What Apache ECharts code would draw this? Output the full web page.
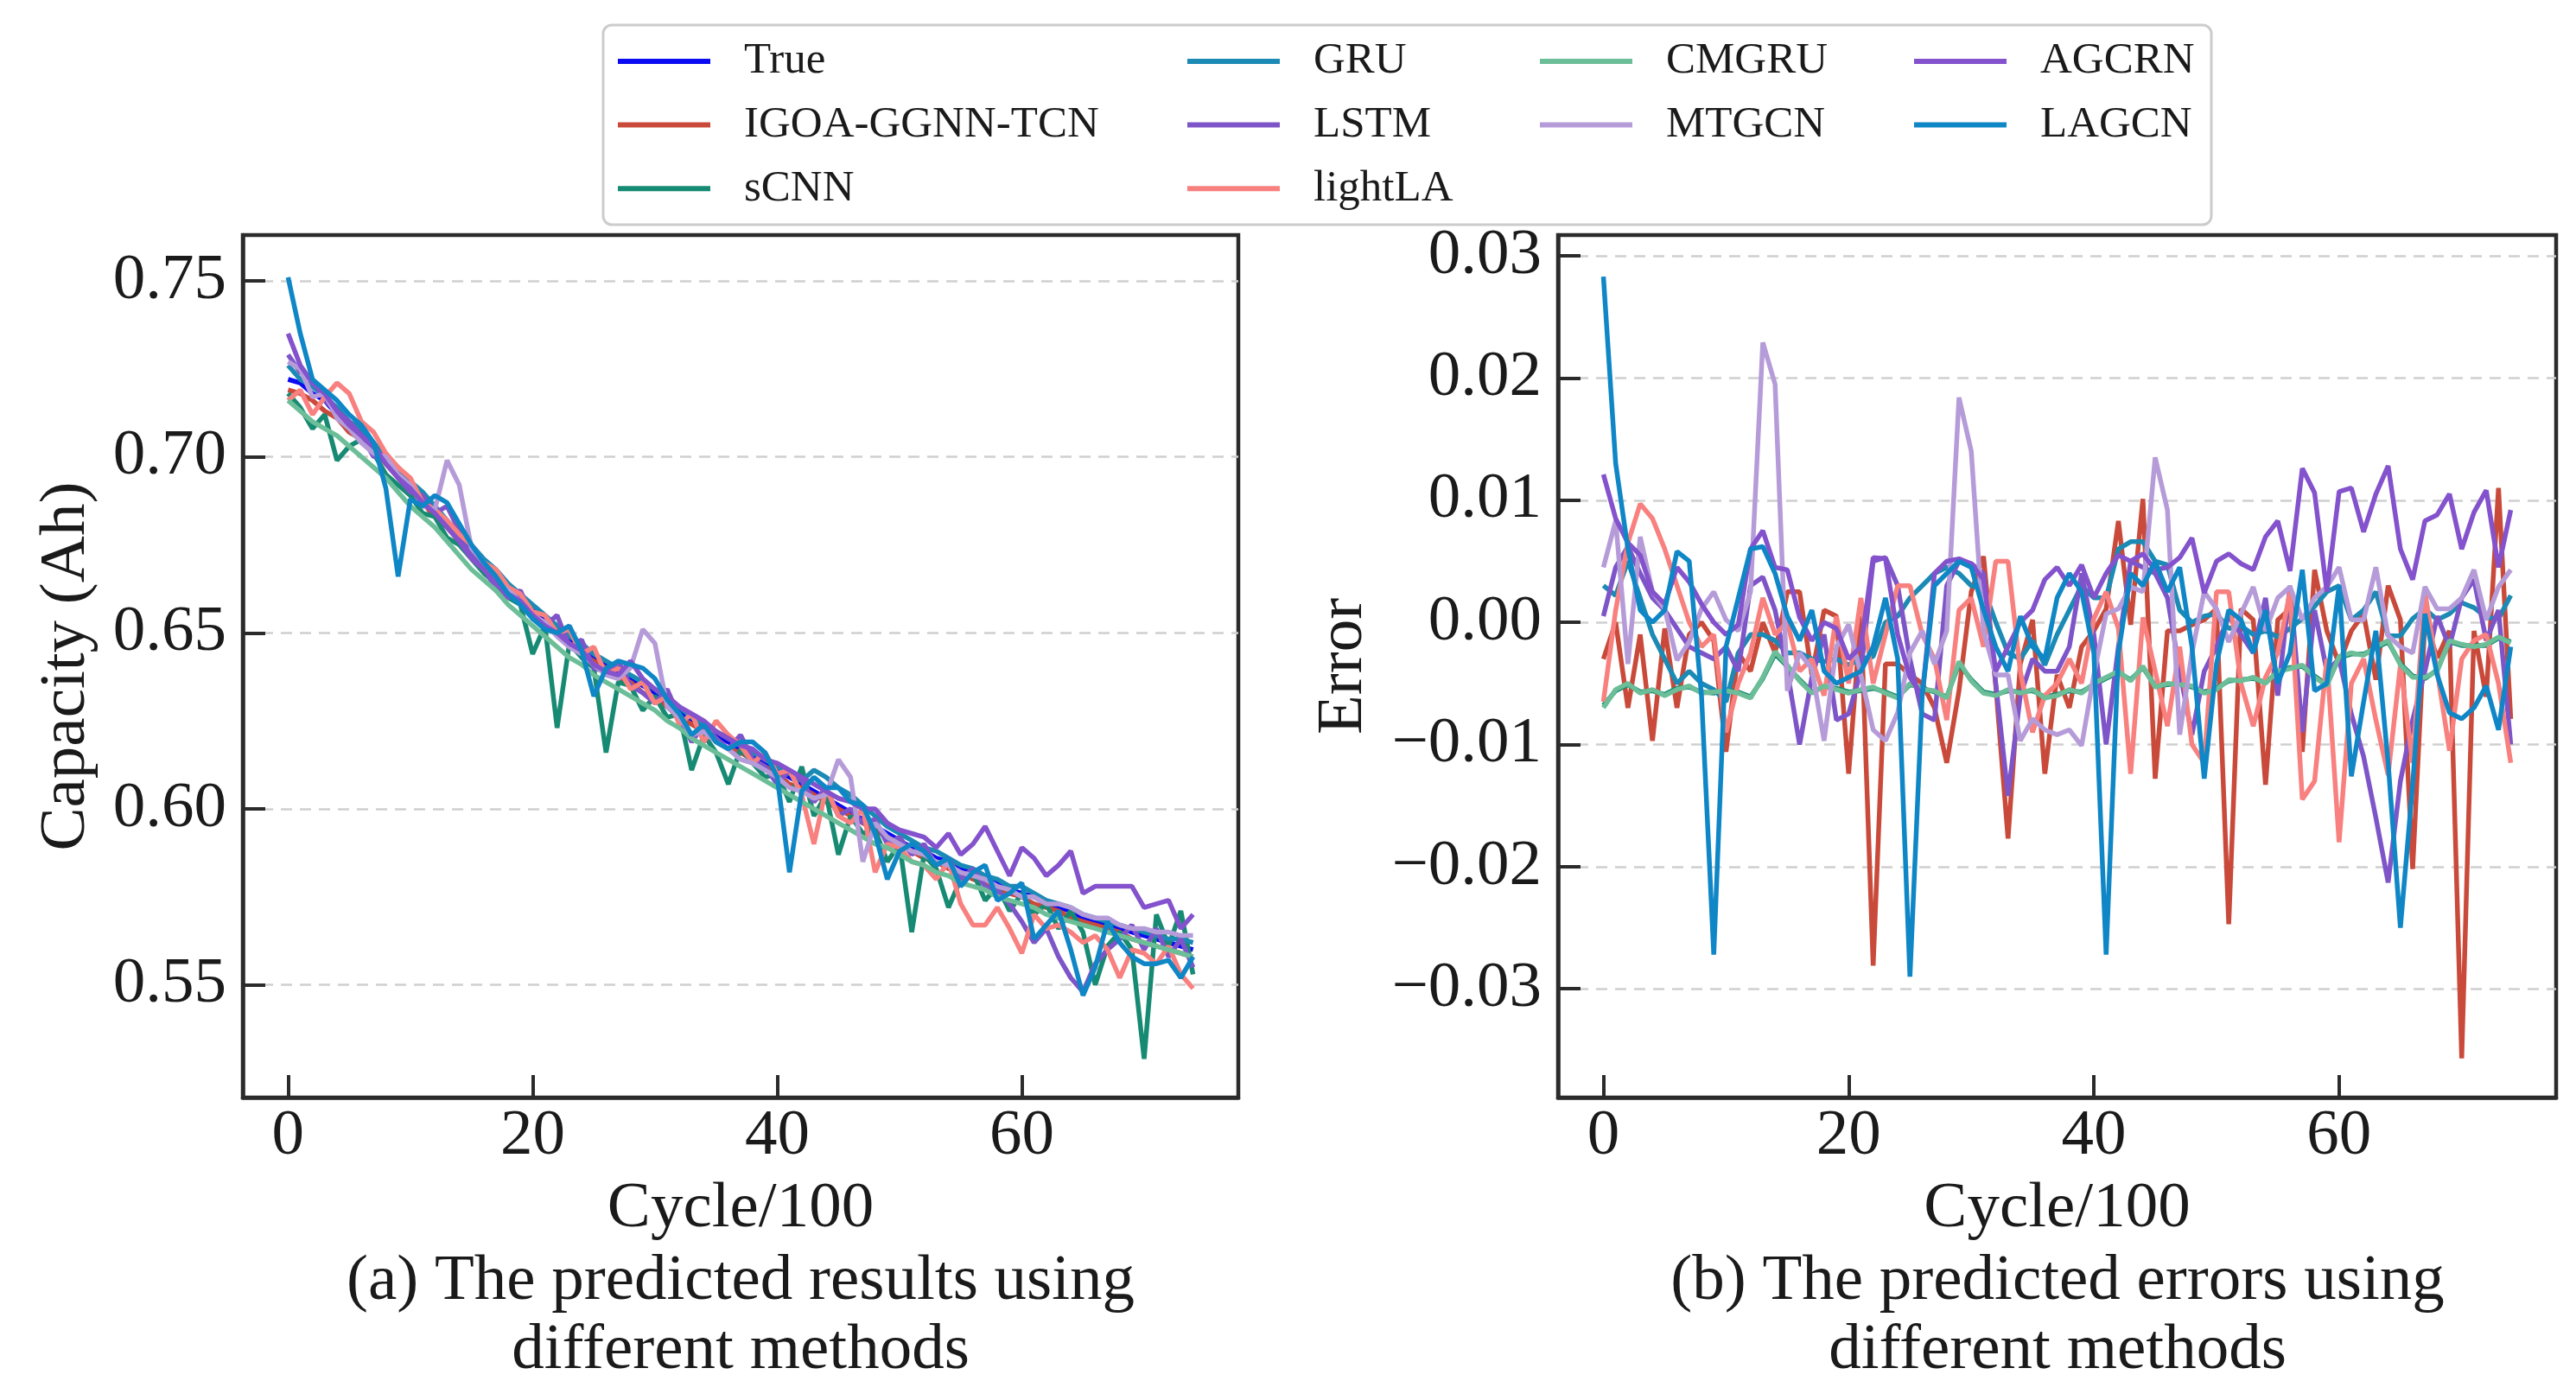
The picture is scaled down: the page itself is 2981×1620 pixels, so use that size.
<!DOCTYPE html>
<html>
<head>
<meta charset="utf-8">
<title>Predicted results and errors</title>
<script src="https://cdn.jsdelivr.net/npm/echarts@6/dist/echarts.min.js"></script>
<style>
  html, body { margin: 0; padding: 0; background: #fff; }
  #chart { width: 2981px; height: 1620px; }
</style>
</head>
<body>
<div id="chart"></div>
<script>
const FONT = "'Liberation Serif', 'DejaVu Serif', serif";

const CYCLES = [
  0, 1, 2, 3, 4, 5, 6, 7, 8, 9, 10, 11, 12, 13, 14, 15, 16, 17, 18, 19,
  20, 21, 22, 23, 24, 25, 26, 27, 28, 29, 30, 31, 32, 33, 34, 35, 36, 37, 38, 39,
  40, 41, 42, 43, 44, 45, 46, 47, 48, 49, 50, 51, 52, 53, 54, 55, 56, 57, 58, 59,
  60, 61, 62, 63, 64, 65, 66, 67, 68, 69, 70, 71, 72, 73, 74
];

// (a) capacity (Ah)
const trueCap = [
  0.722,0.721,0.718,0.716,0.712,0.709,0.707,0.703,0.699,0.696,
  0.692,0.688,0.685,0.681,0.677,0.673,0.670,0.667,0.663,0.660,
  0.657,0.654,0.651,0.648,0.646,0.643,0.641,0.639,0.637,0.635,
  0.633,0.630,0.628,0.625,0.623,0.621,0.619,0.617,0.615,0.613,
  0.611,0.609,0.607,0.605,0.603,0.601,0.599,0.597,0.595,0.593,
  0.591,0.589,0.588,0.586,0.585,0.583,0.582,0.580,0.579,0.577,
  0.576,0.575,0.573,0.572,0.571,0.569,0.568,0.567,0.566,0.565,
  0.564,0.563,0.562,0.561,0.560
];
const igoaCap = [
  0.719,0.718,0.716,0.713,0.711,0.707,0.705,0.702,0.698,0.694,
  0.690,0.687,0.683,0.680,0.676,0.672,0.668,0.665,0.662,0.658,
  0.655,0.653,0.650,0.647,0.644,0.642,0.640,0.637,0.636,0.633,
  0.631,0.629,0.626,0.624,0.622,0.620,0.617,0.616,0.614,0.612,
  0.610,0.607,0.606,0.604,0.602,0.600,0.598,0.596,0.594,0.592,
  0.590,0.588,0.586,0.585,0.583,0.582,0.580,0.579,0.577,0.576,
  0.575,0.573,0.572,0.571,0.569,0.568,0.567,0.566,0.565,0.563,
  0.562,0.561,0.560,0.559,0.558
];
const scnnCap = [
  0.718,0.714,0.708,0.712,0.699,0.703,0.705,0.701,0.695,0.692,
  0.689,0.684,0.683,0.677,0.675,0.671,0.667,0.664,0.660,0.658,
  0.644,0.652,0.623,0.647,0.643,0.640,0.616,0.636,0.635,0.628,
  0.632,0.626,0.627,0.611,0.621,0.616,0.607,0.617,0.613,0.609,
  0.610,0.602,0.612,0.598,0.604,0.587,0.598,0.593,0.594,0.585,
  0.590,0.565,0.587,0.583,0.572,0.580,0.582,0.574,0.578,0.571,
  0.576,0.570,0.573,0.566,0.571,0.565,0.550,0.561,0.565,0.560,
  0.529,0.570,0.561,0.571,0.553
];
const gruCap = [
  0.726,0.722,0.720,0.717,0.714,0.710,0.708,0.704,0.700,0.697,
  0.693,0.690,0.686,0.682,0.678,0.675,0.671,0.668,0.664,0.661,
  0.658,0.655,0.652,0.649,0.647,0.644,0.642,0.640,0.638,0.636,
  0.634,0.631,0.629,0.626,0.624,0.622,0.620,0.618,0.616,0.614,
  0.612,0.610,0.608,0.611,0.609,0.606,0.604,0.601,0.598,0.595,
  0.593,0.591,0.589,0.588,0.586,0.584,0.583,0.581,0.580,0.578,
  0.578,0.576,0.574,0.573,0.572,0.570,0.569,0.568,0.567,0.566,
  0.565,0.564,0.563,0.563,0.562
];
const lstmCap = [
  0.729,0.724,0.722,0.716,0.713,0.710,0.706,0.700,0.701,0.694,
  0.690,0.689,0.684,0.686,0.679,0.672,0.669,0.662,0.660,0.662,
  0.654,0.652,0.655,0.646,0.648,0.640,0.639,0.642,0.635,0.633,
  0.630,0.634,0.626,0.619,0.624,0.620,0.617,0.621,0.614,0.612,
  0.607,0.611,0.608,0.602,0.606,0.598,0.600,0.596,0.597,0.590,
  0.592,0.587,0.590,0.584,0.586,0.580,0.583,0.578,0.577,0.573,
  0.568,0.562,0.566,0.558,0.552,0.548,0.556,0.560,0.563,0.567,
  0.560,0.566,0.558,0.563,0.555
];
const lightlaCap = [
  0.716,0.719,0.712,0.717,0.721,0.718,0.710,0.707,0.701,0.697,
  0.694,0.687,0.685,0.682,0.678,0.675,0.670,0.668,0.663,0.661,
  0.656,0.655,0.650,0.651,0.644,0.646,0.638,0.640,0.634,0.636,
  0.630,0.632,0.624,0.627,0.619,0.625,0.621,0.618,0.613,0.616,
  0.610,0.611,0.604,0.590,0.606,0.598,0.596,0.600,0.582,0.590,
  0.589,0.585,0.584,0.580,0.585,0.573,0.567,0.567,0.572,0.566,
  0.559,0.570,0.566,0.567,0.565,0.562,0.564,0.560,0.552,0.560,
  0.559,0.556,0.561,0.553,0.549
];
const cmgruCap = [
  0.716,0.713,0.710,0.708,0.706,0.703,0.700,0.697,0.694,0.690,
  0.686,0.683,0.680,0.676,0.672,0.668,0.665,0.662,0.658,0.655,
  0.652,0.649,0.646,0.643,0.641,0.638,0.636,0.634,0.632,0.630,
  0.628,0.625,0.623,0.620,0.618,0.616,0.614,0.612,0.610,0.608,
  0.606,0.604,0.602,0.600,0.598,0.596,0.594,0.592,0.590,0.589,
  0.587,0.585,0.584,0.582,0.581,0.579,0.578,0.577,0.575,0.574,
  0.573,0.572,0.570,0.569,0.568,0.567,0.566,0.565,0.564,0.563,
  0.562,0.561,0.560,0.559,0.558
];
const mtgcnCap = [
  0.727,0.725,0.717,0.718,0.711,0.708,0.704,0.701,0.700,0.695,
  0.692,0.686,0.685,0.699,0.692,0.674,0.670,0.665,0.662,0.659,
  0.655,0.653,0.649,0.646,0.644,0.641,0.638,0.637,0.640,0.651,
  0.647,0.629,0.626,0.621,0.622,0.619,0.617,0.614,0.613,0.611,
  0.609,0.606,0.605,0.603,0.604,0.614,0.609,0.585,0.596,0.592,
  0.590,0.588,0.587,0.585,0.584,0.582,0.581,0.580,0.578,0.577,
  0.575,0.575,0.573,0.573,0.572,0.570,0.569,0.569,0.567,0.566,
  0.566,0.565,0.565,0.564,0.564
];
const agcrnCap = [
  0.735,0.726,0.721,0.718,0.713,0.709,0.706,0.703,0.698,0.694,
  0.691,0.687,0.684,0.680,0.676,0.671,0.668,0.664,0.661,0.659,
  0.655,0.652,0.650,0.647,0.645,0.641,0.639,0.638,0.642,0.637,
  0.634,0.632,0.629,0.627,0.625,0.622,0.620,0.618,0.617,0.614,
  0.613,0.611,0.609,0.607,0.605,0.603,0.602,0.600,0.600,0.596,
  0.594,0.593,0.592,0.589,0.593,0.587,0.590,0.595,0.588,0.581,
  0.589,0.586,0.581,0.584,0.588,0.576,0.578,0.578,0.578,0.578,
  0.572,0.573,0.574,0.566,0.570
];
const lagcnCap = [
  0.751,0.735,0.722,0.719,0.716,0.712,0.709,0.704,0.691,0.666,
  0.688,0.686,0.689,0.687,0.681,0.675,0.670,0.666,0.661,0.658,
  0.654,0.651,0.650,0.652,0.645,0.632,0.640,0.642,0.641,0.640,
  0.637,0.631,0.627,0.621,0.624,0.619,0.617,0.619,0.619,0.616,
  0.609,0.582,0.605,0.609,0.606,0.606,0.602,0.601,0.593,0.580,
  0.588,0.590,0.588,0.584,0.586,0.578,0.582,0.584,0.574,0.576,
  0.579,0.563,0.567,0.571,0.560,0.547,0.555,0.568,0.562,0.558,
  0.556,0.556,0.557,0.552,0.558
];

// (b) prediction errors
const igoaErr = [
  -0.0030,0.0000,-0.0070,-0.0010,-0.0097,-0.0005,-0.0070,-0.0010,0.0000,-0.0015,
  -0.0106,-0.0025,-0.0040,0.0000,-0.0025,0.0025,0.0025,-0.0043,0.0010,0.0005,
  -0.0124,0.0005,-0.0281,-0.0034,-0.0034,-0.0043,-0.0050,-0.0070,-0.0115,-0.0056,
  0.0025,0.0054,-0.0052,-0.0177,-0.0034,0.0002,-0.0124,-0.0043,-0.0070,-0.0020,
  -0.0007,0.0011,0.0083,-0.0002,0.0101,-0.0128,-0.0007,-0.0007,-0.0002,0.0002,
  0.0011,-0.0247,0.0011,0.0002,-0.0133,0.0002,0.0011,-0.0106,0.0043,-0.0007,
  -0.0034,-0.0007,0.0007,-0.0047,0.0030,0.0002,-0.0202,0.0002,-0.0029,-0.0007,
  -0.0357,-0.0007,-0.0061,0.0110,-0.0079
];
const scnnErr = [
  -0.0068,-0.0056,-0.0051,-0.0057,-0.0056,-0.0059,-0.0054,-0.0053,-0.0057,-0.0058,
  -0.0055,-0.0057,-0.0061,-0.0046,-0.0026,-0.0036,-0.0047,-0.0057,-0.0053,-0.0054,
  -0.0057,-0.0056,-0.0054,-0.0057,-0.0061,-0.0051,-0.0054,-0.0057,-0.0061,-0.0034,
  -0.0047,-0.0057,-0.0059,-0.0056,-0.0057,-0.0056,-0.0061,-0.0059,-0.0056,-0.0057,
  -0.0051,-0.0046,-0.0041,-0.0047,-0.0037,-0.0052,-0.0051,-0.0050,-0.0053,-0.0057,
  -0.0054,-0.0048,-0.0047,-0.0046,-0.0049,-0.0041,-0.0037,-0.0036,-0.0044,-0.0051,
  -0.0029,-0.0026,-0.0026,-0.0021,-0.0016,-0.0034,-0.0044,-0.0046,-0.0039,-0.0016,
  -0.0019,-0.0019,-0.0019,-0.0013,-0.0016
];
const gruErr = [
  0.0030,0.0022,0.0050,0.0020,-0.0010,-0.0030,-0.0050,-0.0040,-0.0050,-0.0055,
  -0.0065,-0.0025,-0.0010,-0.0010,-0.0015,-0.0025,-0.0025,-0.0030,-0.0032,-0.0030,
  -0.0035,-0.0030,-0.0028,0.0000,0.0005,0.0020,0.0030,0.0040,0.0045,0.0040,
  0.0030,0.0028,0.0000,-0.0025,-0.0030,-0.0015,-0.0035,-0.0010,0.0010,0.0030,
  0.0020,0.0020,0.0060,0.0066,0.0066,0.0050,0.0047,0.0010,0.0000,0.0005,
  0.0007,-0.0005,-0.0003,-0.0010,-0.0007,-0.0012,-0.0005,0.0003,0.0013,0.0025,
  0.0030,0.0002,0.0010,0.0025,-0.0011,-0.0011,0.0003,0.0011,0.0002,0.0007,
  0.0016,0.0012,0.0004,0.0003,0.0022
];
const lstmErr = [
  0.0005,0.0045,0.0062,0.0040,0.0020,0.0010,-0.0005,-0.0020,-0.0025,-0.0030,
  -0.0020,-0.0040,0.0030,0.0037,0.0010,-0.0040,-0.0100,-0.0045,-0.0010,-0.0080,
  -0.0075,-0.0040,0.0050,0.0053,0.0030,-0.0030,-0.0075,-0.0080,0.0030,0.0050,
  0.0048,0.0040,-0.0050,-0.0142,-0.0060,-0.0030,-0.0040,-0.0040,-0.0020,0.0040,
  -0.0010,-0.0100,-0.0020,0.0050,0.0045,0.0040,0.0020,-0.0040,-0.0092,-0.0040,
  -0.0020,0.0005,-0.0010,-0.0025,0.0020,-0.0060,0.0030,-0.0090,0.0010,-0.0040,
  -0.0030,-0.0075,-0.0110,-0.0160,-0.0213,-0.0130,-0.0080,-0.0040,0.0005,-0.0020,
  0.0020,0.0035,-0.0015,0.0010,-0.0100
];
const lightlaErr = [
  -0.0065,0.0010,0.0065,0.0097,0.0085,0.0060,0.0030,0.0000,-0.0020,-0.0010,
  -0.0090,-0.0050,-0.0025,0.0020,-0.0010,0.0000,-0.0040,-0.0030,-0.0060,0.0005,
  -0.0050,0.0020,-0.0050,-0.0010,0.0030,0.0030,-0.0010,-0.0030,-0.0080,0.0010,
  0.0020,-0.0020,0.0050,0.0050,-0.0040,-0.0090,-0.0060,-0.0050,-0.0030,-0.0050,
  0.0003,0.0025,-0.0005,-0.0124,0.0004,-0.0040,-0.0085,-0.0020,-0.0100,-0.0115,
  0.0025,0.0025,-0.0050,-0.0085,-0.0045,-0.0025,0.0025,-0.0145,-0.0130,-0.0030,
  -0.0180,-0.0050,-0.0030,-0.0080,-0.0125,-0.0035,-0.0115,0.0025,-0.0040,-0.0105,
  -0.0030,-0.0015,-0.0010,-0.0050,-0.0115
];
const cmgruErr = [
  -0.0070,-0.0055,-0.0050,-0.0058,-0.0055,-0.0060,-0.0055,-0.0052,-0.0058,-0.0057,
  -0.0056,-0.0058,-0.0062,-0.0045,-0.0024,-0.0035,-0.0048,-0.0058,-0.0052,-0.0055,
  -0.0058,-0.0055,-0.0053,-0.0058,-0.0062,-0.0050,-0.0055,-0.0056,-0.0062,-0.0032,
  -0.0048,-0.0058,-0.0060,-0.0055,-0.0058,-0.0055,-0.0062,-0.0060,-0.0055,-0.0058,
  -0.0050,-0.0045,-0.0040,-0.0048,-0.0036,-0.0053,-0.0050,-0.0051,-0.0052,-0.0058,
  -0.0055,-0.0047,-0.0048,-0.0045,-0.0050,-0.0040,-0.0038,-0.0035,-0.0045,-0.0052,
  -0.0028,-0.0025,-0.0027,-0.0020,-0.0015,-0.0035,-0.0045,-0.0045,-0.0040,-0.0015,
  -0.0018,-0.0020,-0.0018,-0.0012,-0.0017
];
const mtgcnErr = [
  0.0045,0.0083,-0.0034,0.0070,0.0025,0.0011,-0.0031,-0.0016,0.0011,0.0025,
  0.0002,-0.0007,0.0025,0.0229,0.0195,-0.0056,-0.0025,-0.0038,-0.0097,-0.0020,
  -0.0002,-0.0043,-0.0088,-0.0097,-0.0074,-0.0025,-0.0007,-0.0034,-0.0007,0.0184,
  0.0140,-0.0007,-0.0043,-0.0043,-0.0097,-0.0079,-0.0088,-0.0092,-0.0088,-0.0101,
  -0.0043,0.0007,0.0011,0.0029,0.0025,0.0135,0.0092,-0.0092,-0.0025,0.0025,
  0.0011,-0.0016,0.0007,0.0029,-0.0007,0.0020,0.0029,0.0002,0.0020,0.0029,
  0.0045,0.0002,0.0002,0.0045,-0.0011,-0.0020,-0.0025,0.0029,0.0011,0.0011,
  0.0020,0.0043,0.0002,0.0029,0.0043
];
const agcrnErr = [
  0.0121,0.0085,0.0065,0.0055,0.0025,0.0015,0.0045,0.0033,0.0015,0.0000,
  -0.0010,-0.0002,0.0060,0.0075,0.0045,0.0043,0.0004,-0.0015,0.0000,-0.0005,
  -0.0030,-0.0020,0.0053,0.0052,-0.0010,-0.0045,-0.0060,0.0040,0.0050,0.0052,
  0.0048,0.0035,-0.0040,-0.0020,0.0000,0.0010,0.0035,0.0045,0.0030,0.0047,
  0.0020,0.0040,0.0055,0.0050,0.0056,0.0043,0.0045,0.0053,0.0069,0.0024,
  0.0050,0.0056,0.0048,0.0043,0.0070,0.0083,0.0042,0.0126,0.0106,0.0025,
  0.0107,0.0110,0.0074,0.0105,0.0128,0.0060,0.0035,0.0083,0.0088,0.0105,
  0.0060,0.0090,0.0108,0.0045,0.0092
];
const lagcnErr = [
  0.0283,0.0130,0.0060,0.0010,0.0000,0.0010,0.0058,0.0050,-0.0060,-0.0272,
  -0.0020,0.0020,0.0060,0.0062,0.0040,0.0005,-0.0015,0.0010,-0.0040,-0.0050,
  -0.0045,-0.0040,-0.0020,0.0020,-0.0030,-0.0290,-0.0060,0.0030,0.0040,0.0050,
  0.0045,0.0010,-0.0020,-0.0040,0.0005,-0.0020,-0.0030,0.0020,0.0040,0.0025,
  -0.0025,-0.0272,-0.0025,0.0040,0.0030,0.0050,0.0025,0.0045,-0.0020,-0.0128,
  -0.0034,0.0010,0.0002,-0.0025,0.0010,-0.0050,-0.0025,0.0043,-0.0056,-0.0050,
  0.0030,-0.0126,-0.0065,-0.0007,-0.0115,-0.0250,-0.0133,0.0007,-0.0043,-0.0074,
  -0.0079,-0.0070,-0.0052,-0.0088,-0.0020
];

const METHODS = ['IGOA-GGNN-TCN', 'sCNN', 'GRU', 'LSTM', 'lightLA', 'CMGRU', 'MTGCN', 'AGCRN', 'LAGCN'];
const CAP_SERIES = [igoaCap, scnnCap, gruCap, lstmCap, lightlaCap, cmgruCap, mtgcnCap, agcrnCap, lagcnCap];
const ERR_SERIES = [igoaErr, scnnErr, gruErr, lstmErr, lightlaErr, cmgruErr, mtgcnErr, agcrnErr, lagcnErr];
const COLORS = {
  'True': '#0b0bf2',
  'IGOA-GGNN-TCN': '#c94a3a',
  'sCNN': '#168a72',
  'GRU': '#1b8ab4',
  'LSTM': '#7e55c8',
  'lightLA': '#f8807f',
  'CMGRU': '#6cbe98',
  'MTGCN': '#b69bd9',
  'AGCRN': '#8352cc',
  'LAGCN': '#0f86c6'
};
const LEGEND_COLUMNS = [
  ['True', 'IGOA-GGNN-TCN', 'sCNN'],
  ['GRU', 'LSTM', 'lightLA'],
  ['CMGRU', 'MTGCN'],
  ['AGCRN', 'LAGCN']
];
const LEGEND_LEFT = [715, 1374, 1782, 2215];

const X_TICKS = [0, 20, 40, 60];
const CAP_TICKS = [0.55, 0.60, 0.65, 0.70, 0.75];
const ERR_TICKS = [-0.03, -0.02, -0.01, 0, 0.01, 0.02, 0.03];

const AXIS_COLOR = '#2b2b2b';
const LABEL_SIZE = 75;

function pairs(vals) {
  return vals.map((v, i) => [CYCLES[i], v]);
}

function lineSeries(name, vals, idx) {
  return {
    name: name,
    type: 'line',
    xAxisIndex: idx,
    yAxisIndex: idx,
    data: pairs(vals),
    symbol: 'none',
    lineStyle: { width: 5.5, color: COLORS[name] },
    itemStyle: { color: COLORS[name] },
    emphasis: { disabled: true }
  };
}

function xAxisFor(idx) {
  return {
    gridIndex: idx,
    type: 'value',
    min: -3.7,
    max: 77.7,
    name: 'Cycle/100',
    nameLocation: 'middle',
    nameGap: 92,
    nameTextStyle: { fontFamily: FONT, fontSize: LABEL_SIZE, color: '#1a1a1a' },
    axisLine: { onZero: false, lineStyle: { color: AXIS_COLOR, width: 4.5 } },
    axisTick: { inside: true, length: 26, customValues: X_TICKS, lineStyle: { color: AXIS_COLOR, width: 4 } },
    axisLabel: { customValues: X_TICKS, margin: 8, fontFamily: FONT, fontSize: LABEL_SIZE, color: '#1a1a1a' },
    splitLine: { show: false }
  };
}

function yAxisFor(idx, min, max, ticks, digits, name, gap) {
  return {
    gridIndex: idx,
    type: 'value',
    min: min,
    max: max,
    name: name,
    nameLocation: 'middle',
    nameGap: gap,
    nameTextStyle: { fontFamily: FONT, fontSize: LABEL_SIZE, color: '#1a1a1a' },
    axisLine: { onZero: false, lineStyle: { color: AXIS_COLOR, width: 4.5 } },
    axisTick: { inside: true, length: 26, customValues: ticks, lineStyle: { color: AXIS_COLOR, width: 4 } },
    axisLabel: {
      customValues: ticks,
      margin: 19,
      fontFamily: FONT,
      fontSize: LABEL_SIZE,
      color: '#1a1a1a',
      formatter: v => (v < -1e-9 ? '\u2212' : '') + Math.abs(v).toFixed(digits)
    },
    splitLine: { show: true, lineStyle: { color: '#cfcfcf', width: 2.5, type: [13, 9] } }
  };
}

const series = [lineSeries('True', trueCap, 0)];
METHODS.forEach((m, k) => series.push(lineSeries(m, CAP_SERIES[k], 0)));
METHODS.forEach((m, k) => series.push(lineSeries(m, ERR_SERIES[k], 1)));

const legends = LEGEND_COLUMNS.map((col, k) => ({
  data: col,
  orient: 'vertical',
  left: LEGEND_LEFT[k],
  top: 43,
  padding: 0,
  itemGap: 17.6,
  itemWidth: 107,
  itemHeight: 6,
  icon: 'rect',
  textStyle: { fontFamily: FONT, fontSize: 51, lineHeight: 56, color: '#1a1a1a', padding: [0, 0, 0, 34] }
}));

const captionStyle = {
  fontFamily: FONT,
  fontSize: LABEL_SIZE,
  lineHeight: 80,
  fill: '#1a1a1a',
  textAlign: 'center',
  textVerticalAlign: 'top'
};

const option = {
  backgroundColor: '#ffffff',
  animation: false,
  grid: [
    { left: 281, top: 272, width: 1152, height: 998, show: true, borderColor: AXIS_COLOR, borderWidth: 4.5, backgroundColor: 'transparent' },
    { left: 1803, top: 272, width: 1155, height: 998, show: true, borderColor: AXIS_COLOR, borderWidth: 4.5, backgroundColor: 'transparent' }
  ],
  xAxis: [xAxisFor(0), xAxisFor(1)],
  yAxis: [
    yAxisFor(0, 0.518, 0.763, CAP_TICKS, 2, 'Capacity (Ah)', 166),
    yAxisFor(1, -0.0389, 0.0317, ERR_TICKS, 2, 'Error', 210)
  ],
  legend: legends,
  graphic: [
    {
      type: 'rect',
      z: 0,
      shape: { x: 698, y: 29, width: 1861, height: 231, r: 10 },
      style: { fill: '#ffffff', stroke: '#cccccc', lineWidth: 3 }
    },
    {
      type: 'text',
      x: 857, y: 1443,
      style: Object.assign({ text: '(a) The predicted results using\ndifferent methods' }, captionStyle)
    },
    {
      type: 'text',
      x: 2381, y: 1443,
      style: Object.assign({ text: '(b) The predicted errors using\ndifferent methods' }, captionStyle)
    }
  ],
  series: series
};

const chart = echarts.init(document.getElementById('chart'), null, { renderer: 'canvas' });
chart.setOption(option);
window.addEventListener('resize', chart.resize);
</script>
</body>
</html>
